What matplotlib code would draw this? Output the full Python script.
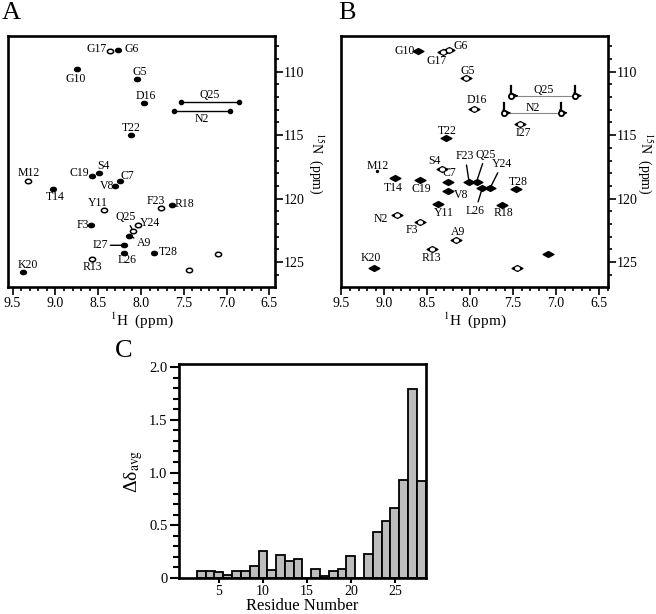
import matplotlib
matplotlib.use('Agg')
import matplotlib.pyplot as plt
from matplotlib.path import Path
from matplotlib.ticker import MultipleLocator, FixedLocator
import numpy as np

plt.rcParams['font.family'] = ['Liberation Serif', 'DejaVu Serif']
plt.rcParams['mathtext.fontset'] = 'stix'

# ---------------- Data ----------------
# Panel A: backbone amide peaks (1H ppm, 15N ppm)
a_labels = ['G17', 'G6', 'G10', 'G5', 'D16', 'T22', 'S4', 'C19', 'C7', 'V8', 'M12', 'T14',
            'Y11', 'F23', 'R18', 'F3', 'Y24', 'Q25', 'A9', 'I27', 'L26', 'T28', 'R13', 'K20', '', '']
a_h = [8.364, 8.263, 8.746, 8.052, 7.966, 8.111, 8.493, 8.567, 8.247, 8.298, 9.320, 9.027,
       8.431, 7.764, 7.639, 8.587, 8.033, 8.091, 8.142, 8.200, 8.200, 7.850, 8.571, 9.378, 7.097, 7.444]
a_n = [108.34, 108.26, 109.79, 110.58, 112.45, 114.95, 118.00, 118.24, 118.60, 119.00, 118.63, 119.26,
       120.92, 120.74, 120.53, 122.08, 122.05, 122.55, 122.92, 123.68, 124.29, 124.29, 124.76, 125.82, 124.39, 125.60]
# side-chain NH2 pairs in A
a_sc_labels = ['Q25', 'N2']
a_sc_h1 = [7.534, 7.620]
a_sc_h2 = [6.859, 6.960]
a_sc_n = [112.42, 113.13]

# Panel B
b_labels = ['G10', 'G17', 'G6', 'G5', 'D16', 'I27', 'T22', 'S4', 'M12', 'T14', 'C19', 'C7', 'V8',
            'F23', 'Q25', 'L26', 'Y24', 'T28', 'R18', 'Y11', 'N2', 'F3', 'A9', 'R13', 'K20', '', '']
b_h = [8.612, 8.314, 8.252, 8.050, 7.950, 7.422, 8.279, 8.330, 9.089, 8.876, 8.580, 8.256, 8.256,
       8.012, 7.926, 7.857, 7.767, 7.469, 7.632, 8.372, 8.857, 8.581, 8.167, 8.446, 9.124, 7.089, 7.450]
b_n = [108.37, 108.47, 108.26, 110.50, 112.90, 114.08, 115.24, 117.63, 117.84, 118.37, 118.55, 118.71, 119.39,
       118.71, 118.68, 119.13, 119.16, 119.24, 120.53, 120.45, 121.32, 121.87, 123.29, 123.95, 125.45, 124.39, 125.47]
b_sc_labels = ['Q25', 'N2']
b_sc_h1 = [7.519, 7.605]
b_sc_h2 = [6.779, 6.946]
b_sc_n = [111.89, 113.24]

# Panel C: chemical shift perturbation per residue
residues = list(range(3, 29))
delta_avg = [0.070, 0.066, 0.054, 0.032, 0.070, 0.063, 0.114, 0.260, 0.076, 0.218, 0.158, 0.177, 0.0,
             0.082, 0.020, 0.063, 0.089, 0.206, 0.0, 0.231, 0.440, 0.544, 0.668, 0.934, 1.790, 0.920]

# ---------------- Layout / style ----------------
W, H = 656, 614
fig = plt.figure(figsize=(W / 100, H / 100), dpi=100)

def px_axes(l, t, r, b):
    return fig.add_axes([l / W, 1 - b / H, (r - l) / W, (b - t) / H])

# label offsets in pixels (dx, dy up)
a_off = {'G17': (-13, 2), 'G6': (13, 1), 'G10': (-1, -10), 'G5': (3, 7), 'D16': (2, 7), 'T22': (0, 7),
         'S4': (5, 7), 'C19': (-13, 3), 'C7': (8, 5), 'V8': (-8, 0), 'M12': (1, 8), 'T14': (2, -8),
         'Y11': (-6, 7), 'F23': (-5, 7), 'R18': (13, 1), 'F3': (-8, 0), 'Y24': (12, 2), 'Q25': (-8, 14),
         'A9': (15, -7), 'I27': (-24, 0), 'L26': (3, -7), 'T28': (14, 1), 'R13': (0, -8), 'K20': (5, 7)}
a_lines = {'Q25', 'A9', 'I27'}
a_open = {'M12', 'F23', 'Y24', 'R13', 'G17', 'Q25', 'Y11', ''}

b_off = {'G10': (-13, 0), 'G17': (-7, -9), 'G6': (12, 4), 'G5': (2, 7), 'D16': (2, 9), 'I27': (4, -9),
         'T22': (1, 7), 'S4': (-7, 8), 'M12': (1, 5), 'T14': (-2, -10), 'C19': (1, -9), 'C7': (1, 9),
         'V8': (13, -4), 'F23': (-4, 26), 'Q25': (9, 27), 'L26': (-7, -23), 'Y24': (12, 24),
         'T28': (3, 7), 'R18': (2, -8), 'Y11': (6, -9), 'N2': (-16, -4), 'F3': (-8, -8), 'A9': (2, 8),
         'R13': (0, -9), 'K20': (-3, 10)}
b_lines = {'F23', 'Q25', 'L26', 'Y24'}
b_open = {'G17', 'G6', 'G5', 'S4', 'F3', 'R13', 'N2', 'D16', 'I27', 'A9'}

circ = Path.unit_circle()
ell_path = Path(circ.vertices * np.array([1.0, 0.72]), circ.codes)
dia_path = Path([(-1, 0), (0, 0.55), (1, 0), (0, -0.55), (-1, 0)],
                [Path.MOVETO, Path.LINETO, Path.LINETO, Path.LINETO, Path.CLOSEPOLY])

def style_nmr(ax, xlim, ylim):
    ax.set_xlim(*xlim)
    ax.set_ylim(*ylim)
    for s in ax.spines.values():
        s.set_linewidth(1.9)
    ax.yaxis.tick_right()
    ax.xaxis.set_major_locator(MultipleLocator(0.5))
    ax.xaxis.set_minor_locator(MultipleLocator(0.1))
    ax.yaxis.set_major_locator(MultipleLocator(5))
    ax.yaxis.set_minor_locator(MultipleLocator(1))
    ax.tick_params(which='both', direction='out', width=1.2, labelsize=10, pad=2)
    ax.tick_params(axis='y', pad=1)
    ax.tick_params(which='major', length=5.5)
    ax.tick_params(which='minor', length=3)
    ax.tick_params(axis='x', which='both', top=False)
    ax.tick_params(axis='y', which='both', left=False, labelleft=False, right=True, labelright=True)

# ---------------- Panel A ----------------
axA = px_axes(8, 36, 275, 287)
style_nmr(axA, (9.554, 6.434), (126.97, 107.18))
for lab, h, n in zip(a_labels, a_h, a_n):
    if lab in a_open:
        axA.scatter([h], [n], marker=ell_path, s=20, facecolor='white', edgecolor='black', linewidth=1.1, zorder=3)
    else:
        axA.scatter([h], [n], marker=ell_path, s=18, color='black', zorder=3)
    if lab:
        dx, dy = a_off[lab]
        ap = dict(arrowstyle='-', lw=1.0, color='black', shrinkA=0, shrinkB=2) if lab in a_lines else None
        axA.annotate(lab, (h, n), xytext=(dx, dy), textcoords='offset pixels', ha='center', va='center',
                     fontsize=8.5, arrowprops=ap)
for lab, h1, h2, n in zip(a_sc_labels, a_sc_h1, a_sc_h2, a_sc_n):
    axA.plot([h1, h2], [n, n], color='black', lw=1.0, marker='o', markersize=3)
    dy = 7 if lab == 'Q25' else -8
    axA.annotate(lab, ((h1 + h2) / 2, n), xytext=(0, dy), textcoords='offset pixels', ha='center',
                 va='center', fontsize=8.5)

# ---------------- Panel B ----------------
axB = px_axes(341, 36, 608, 287)
style_nmr(axB, (9.504, 6.395), (126.97, 107.18))
for lab, h, n in zip(b_labels, b_h, b_n):
    if lab == 'M12':
        axB.scatter([h], [n], marker='o', s=2, color='black', zorder=3)
    else:
        axB.scatter([h], [n], marker=dia_path, s=60, color='black', zorder=3)
        if lab in b_open or (lab == '' and h > 7.3):
            axB.scatter([h], [n], marker=ell_path, s=7, color='white', zorder=4)
    if lab:
        dx, dy = b_off[lab]
        ap = dict(arrowstyle='-', lw=1.0, color='black', shrinkA=0, shrinkB=2) if lab in b_lines else None
        axB.annotate(lab, (h, n), xytext=(dx, dy), textcoords='offset pixels', ha='center', va='center',
                     fontsize=8.5, arrowprops=ap)
for lab, h1, h2, n in zip(b_sc_labels, b_sc_h1, b_sc_h2, b_sc_n):
    axB.plot([h1, h2], [n, n], color='#888888', lw=0.8, zorder=2)
    for h in (h1, h2):
        axB.plot([h, h], [n, n - 0.75], color='black', lw=1.6, zorder=3)
        axB.annotate('', (h - 0.085, n), xytext=(h, n),
                     arrowprops=dict(arrowstyle='-|>,head_length=0.5,head_width=0.22', color='black',
                                     lw=0.8, shrinkA=0, shrinkB=0), zorder=3)
        axB.scatter([h], [n], marker='o', s=14, facecolor='white', edgecolor='black', linewidth=1.3, zorder=4)
    dy = 6 if lab == 'Q25' else 5
    axB.annotate(lab, ((h1 + h2) / 2, n), xytext=(0, dy), textcoords='offset pixels', ha='center',
                 va='center', fontsize=8.5)

# axis labels for A and B
for xc in (141.5, 474.5):
    fig.text(xc / W, 1 - 320 / H, r'$^{1}$H  (ppm)', ha='center', va='center', fontsize=11)
for xc in (316, 645):
    fig.text(xc / W, 1 - 163 / H, r'$^{15}$N  (ppm)', ha='center', va='center', fontsize=10, rotation=270)

# ---------------- Panel C ----------------
axC = px_axes(179.3, 364, 425.7, 578)
axC.bar(residues, delta_avg, width=1.0, color='#bdbdbd', edgecolor='black', linewidth=1.3, zorder=2)
axC.set_xlim(0.5, 28.5)
axC.set_ylim(0, 2.03)
for s in axC.spines.values():
    s.set_linewidth(1.9)
axC.yaxis.set_major_locator(FixedLocator([0, 0.5, 1.0, 1.5, 2.0]))
axC.set_yticklabels(['0', '0.5', '1.0', '1.5', '2.0'])
axC.yaxis.set_minor_locator(MultipleLocator(0.1))
axC.xaxis.set_major_locator(FixedLocator([5, 10, 15, 20, 25]))
axC.tick_params(which='both', direction='out', width=1.5, labelsize=10.5, pad=2)
axC.tick_params(axis='x', labelsize=10, pad=1)
axC.tick_params(axis='y', which='major', length=6.5)
axC.tick_params(axis='y', which='minor', length=4.3)
axC.tick_params(axis='x', which='major', length=3.8)
axC.set_ylabel('Δδ$_{\\mathrm{avg}}$', fontsize=14, labelpad=3)
fig.text(302.5 / W, 1 - 610 / H, 'Residue Number', ha='center', va='baseline', fontsize=12)

# panel letters
fig.text(2 / W, 1 - 2 / H, 'A', ha='left', va='top', fontsize=19)
fig.text(338 / W, 1 - 2 / H, 'B', ha='left', va='top', fontsize=19)
fig.text(115 / W, 1 - 340 / H, 'C', ha='left', va='top', fontsize=19)

fig.savefig('out.png', dpi=100)
